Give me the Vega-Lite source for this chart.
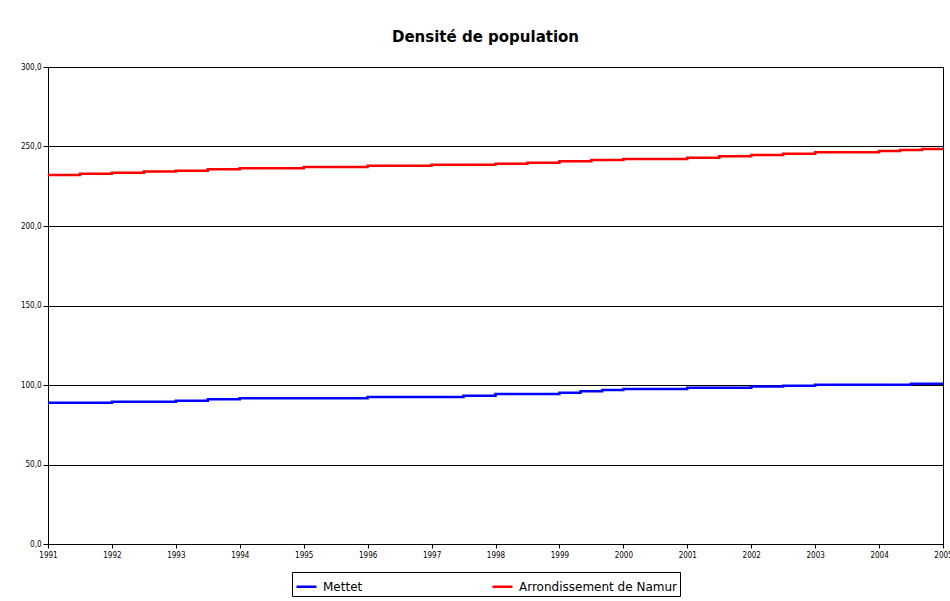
{
  "$schema": "https://vega.github.io/schema/vega-lite/v6.json",
  "width": 895,
  "height": 477,
  "autosize": {"type": "none"},
  "padding": {"left": 48, "top": 67, "right": 7, "bottom": 57},
  "background": "white",
  "title": {
    "text": "Densité de population",
    "font": "DejaVu Sans",
    "fontSize": 15,
    "fontWeight": "bold",
    "color": "black",
    "offset": 18,
    "anchor": "middle",
    "dx": -10
  },
  "data": {
    "values": [
      {"serie": "Arrondissement de Namur", "annee": 1991, "densite": 232.1},
      {"serie": "Arrondissement de Namur", "annee": 1991.5, "densite": 232.9},
      {"serie": "Arrondissement de Namur", "annee": 1992, "densite": 233.5},
      {"serie": "Arrondissement de Namur", "annee": 1992.5, "densite": 234.2},
      {"serie": "Arrondissement de Namur", "annee": 1993, "densite": 234.8},
      {"serie": "Arrondissement de Namur", "annee": 1993.5, "densite": 235.7},
      {"serie": "Arrondissement de Namur", "annee": 1994, "densite": 236.3},
      {"serie": "Arrondissement de Namur", "annee": 1995, "densite": 237.1},
      {"serie": "Arrondissement de Namur", "annee": 1996, "densite": 237.9},
      {"serie": "Arrondissement de Namur", "annee": 1997, "densite": 238.6},
      {"serie": "Arrondissement de Namur", "annee": 1998, "densite": 239.2},
      {"serie": "Arrondissement de Namur", "annee": 1998.5, "densite": 239.8},
      {"serie": "Arrondissement de Namur", "annee": 1999, "densite": 240.7},
      {"serie": "Arrondissement de Namur", "annee": 1999.5, "densite": 241.5},
      {"serie": "Arrondissement de Namur", "annee": 2000, "densite": 242.1},
      {"serie": "Arrondissement de Namur", "annee": 2001, "densite": 243.0},
      {"serie": "Arrondissement de Namur", "annee": 2001.5, "densite": 243.8},
      {"serie": "Arrondissement de Namur", "annee": 2002, "densite": 244.7},
      {"serie": "Arrondissement de Namur", "annee": 2002.5, "densite": 245.5},
      {"serie": "Arrondissement de Namur", "annee": 2003, "densite": 246.4},
      {"serie": "Arrondissement de Namur", "annee": 2004, "densite": 247.2},
      {"serie": "Arrondissement de Namur", "annee": 2004.33, "densite": 247.8},
      {"serie": "Arrondissement de Namur", "annee": 2004.67, "densite": 248.4},
      {"serie": "Arrondissement de Namur", "annee": 2005, "densite": 248.4},
      {"serie": "Mettet", "annee": 1991, "densite": 88.9},
      {"serie": "Mettet", "annee": 1992, "densite": 89.5},
      {"serie": "Mettet", "annee": 1993, "densite": 90.1},
      {"serie": "Mettet", "annee": 1993.5, "densite": 91.0},
      {"serie": "Mettet", "annee": 1994, "densite": 91.6},
      {"serie": "Mettet", "annee": 1996, "densite": 92.5},
      {"serie": "Mettet", "annee": 1997.5, "densite": 93.3},
      {"serie": "Mettet", "annee": 1998, "densite": 94.3},
      {"serie": "Mettet", "annee": 1999, "densite": 95.2},
      {"serie": "Mettet", "annee": 1999.33, "densite": 96.0},
      {"serie": "Mettet", "annee": 1999.67, "densite": 96.9},
      {"serie": "Mettet", "annee": 2000, "densite": 97.5},
      {"serie": "Mettet", "annee": 2001, "densite": 98.3},
      {"serie": "Mettet", "annee": 2002, "densite": 99.0},
      {"serie": "Mettet", "annee": 2002.5, "densite": 99.6},
      {"serie": "Mettet", "annee": 2003, "densite": 100.2},
      {"serie": "Mettet", "annee": 2004.5, "densite": 100.8},
      {"serie": "Mettet", "annee": 2005, "densite": 100.8}
    ]
  },
  "mark": {"type": "line", "interpolate": "step-after", "strokeWidth": 2.5, "clip": true},
  "encoding": {
    "x": {
      "field": "annee",
      "type": "quantitative",
      "scale": {"domain": [1991, 2005], "nice": false, "zero": false},
      "axis": {
        "title": null,
        "values": [1991, 1992, 1993, 1994, 1995, 1996, 1997, 1998, 1999, 2000, 2001, 2002, 2003, 2004, 2005],
        "format": "d",
        "grid": false,
        "domainColor": "black",
        "domainWidth": 1,
        "tickColor": "black",
        "tickSize": 4,
        "labelFont": "DejaVu Sans Condensed",
        "labelFontSize": 8,
        "labelColor": "black",
        "labelPadding": 3,
        "labelOverlap": false,
        "labelFlush": false
      }
    },
    "y": {
      "field": "densite",
      "type": "quantitative",
      "scale": {"domain": [0, 300], "nice": false},
      "axis": {
        "title": null,
        "values": [0, 50, 100, 150, 200, 250, 300],
        "labelExpr": "replace(format(datum.value, '.1f'), '.', ',')",
        "grid": true,
        "gridColor": "black",
        "gridWidth": 1,
        "domainColor": "black",
        "tickColor": "black",
        "tickSize": 5,
        "labelFont": "DejaVu Sans Condensed",
        "labelFontSize": 8,
        "labelColor": "black",
        "labelPadding": 2
      }
    },
    "color": {
      "field": "serie",
      "type": "nominal",
      "scale": {"domain": ["Mettet", "Arrondissement de Namur"], "range": ["#0000ff", "#ff0000"]},
      "legend": {
        "title": null,
        "orient": "none",
        "legendX": 244,
        "legendY": 505,
        "direction": "horizontal",
        "symbolType": "stroke",
        "symbolStrokeWidth": 2.5,
        "symbolSize": 400,
        "labelFont": "DejaVu Sans",
        "labelFontSize": 12,
        "labelOffset": 5,
        "labelColor": "black",
        "columnPadding": 124,
        "strokeColor": "black",
        "padding": 3,
        "cornerRadius": 0
      }
    }
  },
  "config": {
    "view": {"stroke": "black", "strokeWidth": 1}
  }
}
